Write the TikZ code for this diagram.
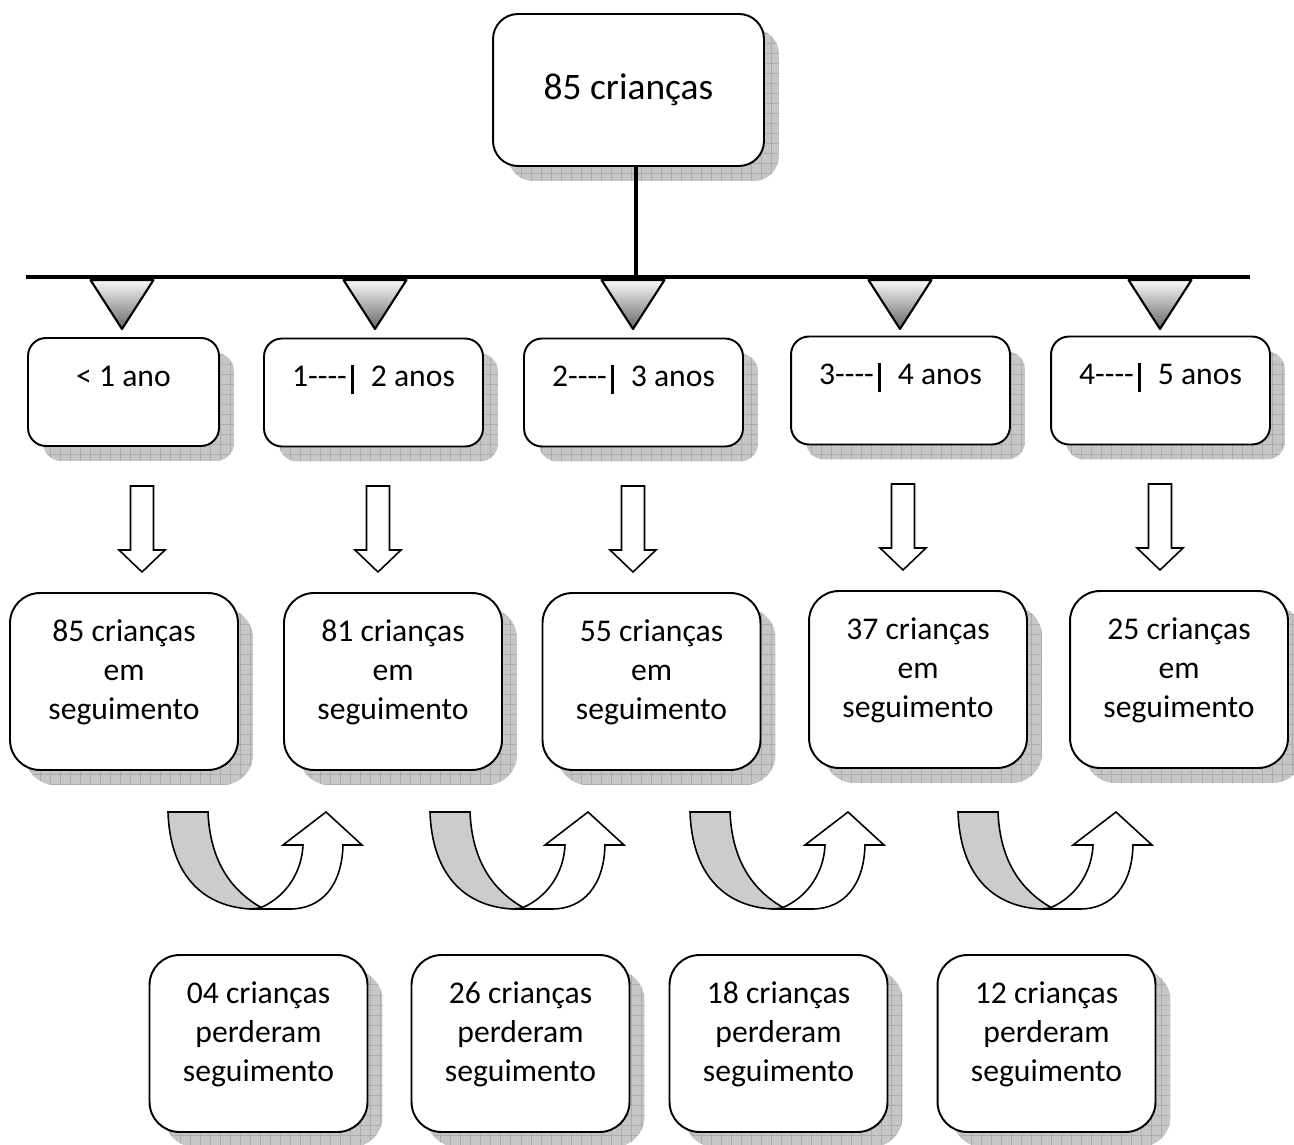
\documentclass[tikz,border=0pt]{standalone}
\usepackage{fontspec}
\setmainfont{Carlito}
\usetikzlibrary{shadows,patterns.meta}

\newcommand{\faixa}[2]{#1\mbox{-}\mbox{-}\mbox{-}\mbox{-}\hspace{0.12em}\rule[-0.25em]{0.09em}{0.94em}\hspace{0.55em}#2 anos}

\tikzset{
  sombra/.style={drop shadow={shadow xshift=0.3cm, shadow yshift=-0.3cm, opacity=1, draw=none, fill=gray!45,
      postaction={pattern={Hatch[distance=5.7pt, line width=0.3pt]}, pattern color=gray!65}}},
  caixa/.style={draw=black, line width=1.1pt, fill=white, align=center, inner sep=0pt, sombra,
      font=\fontsize{18}{22.1}\selectfont},
  topo/.style={caixa, rounded corners=0.5cm, minimum width=5.42cm, minimum height=3.04cm,
      font=\fontsize{21.3}{25}\selectfont},
  idade/.style={caixa, rounded corners=0.36cm, minimum width=4.38cm, minimum height=2.16cm,
      text height=0.44cm, text depth=0.68cm},
  grupo/.style={caixa, rounded corners=0.6cm, minimum width=4.36cm, minimum height=3.54cm, text depth=0.47cm},
  bloco/.style={draw=black, line width=0.9pt, fill=white},
  ponta/.style={draw=black, line width=1.2pt, line join=round, top color=gray!5, bottom color=black!60},
  desce/.pic={
    \path[bloco] (-11.5,0) -- (11.5,0) -- (11.5,64) -- (23,64) -- (0,86) -- (-23,64) -- (-11.5,64) -- cycle;
  },
  volta/.pic={
    \path[bloco, fill=gray!40] (0,0) -- (40,0) .. controls (42,48) and (62,78) .. (94,96)
      -- (82,97) .. controls (32,94) and (2,60) .. (0,0) -- cycle;
    \path[bloco] (92,96) .. controls (120,84) and (134,58) .. (135,33) -- (115,33) -- (158,0)
      -- (194,33) -- (175,33) .. controls (174,73) and (154,97) .. (122,97) -- (88,97) -- cycle;
  }
}

\begin{document}
\begin{tikzpicture}[x=0.02cm, y=-0.02cm]
\useasboundingbox (0,0) rectangle (1294,1145);

% topo e barra
\node[topo] (topo) at (628.5,90) {85 crian\c{c}as};

\coordinate (barraE) at (26,277);
\coordinate (barraD) at (1250,277);
\coordinate (haste) at (636,277);
\draw[line width=2.3pt] (barraE) -- (barraD);
\draw[line width=2.3pt] (topo.south -| haste) -- (haste);

\draw[ponta] (90.5,280) -- (153.5,280) -- (122,329) -- cycle;
\draw[ponta] (343.5,280) -- (406.5,280) -- (375,329) -- cycle;
\draw[ponta] (601.5,280) -- (664.5,280) -- (633,329) -- cycle;
\draw[ponta] (868.5,280) -- (931.5,280) -- (900,329) -- cycle;
\draw[ponta] (1128.5,280) -- (1191.5,280) -- (1160,329) -- cycle;

% faixas de idade
\node[idade, minimum width=3.82cm] (idade1) at (123.5,392) {< 1 ano};
\node[idade] (idade2) at (373.5,392.5) {\faixa{1}{2}};
\node[idade] (idade3) at (633.5,392.5) {\faixa{2}{3}};
\node[idade] (idade4) at (900.5,390.5) {\faixa{3}{4}};
\node[idade] (idade5) at (1160.5,390.5) {\faixa{4}{5}};

\pic at (142,486) {desce};
\pic at (378,486) {desce};
\pic at (633,486) {desce};
\pic at (903,484) {desce};
\pic at (1160,484) {desce};

% em seguimento
\node[grupo, minimum width=4.56cm] (seg1) at (124,681.5) {85 crian\c{c}as\\em\\seguimento};
\node[grupo] (seg2) at (393,681.5) {81 crian\c{c}as\\em\\seguimento};
\node[grupo] (seg3) at (651.5,681.5) {55 crian\c{c}as\\em\\seguimento};
\node[grupo] (seg4) at (918,679.5) {37 crian\c{c}as\\em\\seguimento};
\node[grupo] (seg5) at (1179,679.5) {25 crian\c{c}as\\em\\seguimento};

\pic at (168,812) {volta};
\pic at (430,812) {volta};
\pic at (690,812) {volta};
\pic at (958,812) {volta};

% perdas
\node[grupo] (perda1) at (258.5,1043.5) {04 crian\c{c}as\\perderam\\seguimento};
\node[grupo] (perda2) at (520.5,1043.5) {26 crian\c{c}as\\perderam\\seguimento};
\node[grupo] (perda3) at (778.5,1043.5) {18 crian\c{c}as\\perderam\\seguimento};
\node[grupo] (perda4) at (1046.5,1043.5) {12 crian\c{c}as\\perderam\\seguimento};

\end{tikzpicture}
\end{document}
